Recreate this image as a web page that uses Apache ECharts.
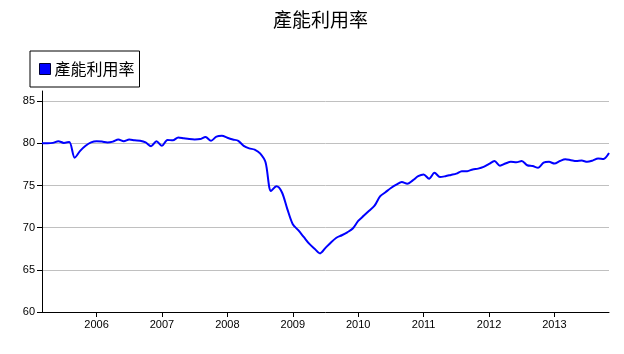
<!DOCTYPE html>
<html>
<head>
<meta charset="utf-8">
<script src="https://cdn.jsdelivr.net/npm/echarts@6/dist/echarts.min.js"></script>
<style>html,body{margin:0;padding:0;background:#fff}#c{width:624px;height:354px}</style>
</head>
<body>
<div id="c"></div>
<script>
var titleText = '產能利用率';
var seriesName = '產能利用率';
var months = [
'2005-03','2005-04','2005-05','2005-06','2005-07','2005-08','2005-09','2005-10','2005-11','2005-12',
'2006-01','2006-02','2006-03','2006-04','2006-05','2006-06','2006-07','2006-08','2006-09','2006-10','2006-11','2006-12',
'2007-01','2007-02','2007-03','2007-04','2007-05','2007-06','2007-07','2007-08','2007-09','2007-10','2007-11','2007-12',
'2008-01','2008-02','2008-03','2008-04','2008-05','2008-06','2008-07','2008-08','2008-09','2008-10','2008-11','2008-12',
'2009-01','2009-02','2009-03','2009-04','2009-05','2009-06','2009-07','2009-08','2009-09','2009-10','2009-11','2009-12',
'2010-01','2010-02','2010-03','2010-04','2010-05','2010-06','2010-07','2010-08','2010-09','2010-10','2010-11','2010-12',
'2011-01','2011-02','2011-03','2011-04','2011-05','2011-06','2011-07','2011-08','2011-09','2011-10','2011-11','2011-12',
'2012-01','2012-02','2012-03','2012-04','2012-05','2012-06','2012-07','2012-08','2012-09','2012-10','2012-11','2012-12',
'2013-01','2013-02','2013-03','2013-04','2013-05','2013-06','2013-07','2013-08','2013-09','2013-10','2013-11'
];
var utilization = [
80.0, 80.0, 80.05, 80.25, 80.05, 80.15, 78.3, 79.1, 79.7, 80.1,
80.25, 80.2, 80.1, 80.2, 80.45, 80.25, 80.45, 80.35, 80.3, 80.1, 79.65, 80.25,
79.7, 80.4, 80.35, 80.7, 80.6, 80.5, 80.45, 80.5, 80.75, 80.3, 80.8, 80.9,
80.65, 80.45, 80.3, 79.7, 79.4, 79.25, 78.8, 77.75, 74.35, 74.9, 74.2, 72.2,
70.4, 69.7, 68.9, 68.1, 67.5, 66.95, 67.6, 68.25, 68.8, 69.1, 69.45, 69.9,
70.8, 71.4, 72.0, 72.6, 73.7, 74.2, 74.7, 75.1, 75.4, 75.2, 75.6, 76.1,
76.3, 75.8, 76.5, 76.0, 76.1, 76.25, 76.4, 76.7, 76.7, 76.9, 77.0, 77.2,
77.55, 77.9, 77.35, 77.6, 77.8, 77.75, 77.9, 77.4, 77.3, 77.1, 77.7, 77.8,
77.6, 77.9, 78.1, 78.0, 77.9, 77.95, 77.8, 77.95, 78.2, 78.15, 78.85
];
var yMin = 60, yMax = 86.2, yStep = 5;

var font = '"Liberation Sans", Arial, sans-serif';
var isJan = function (idx, val) { return /-01$/.test(val); };

var chart = echarts.init(document.getElementById('c'), null, {renderer: 'canvas'});
chart.setOption({
  animation: false,
  backgroundColor: '#ffffff',
  title: {
    text: titleText,
    left: 268, top: 5,
    textStyle: {fontFamily: '"Noto Sans CJK TC", sans-serif', fontSize: 19, fontWeight: 'normal', color: '#000'}
  },
  legend: {
    left: 30, top: 51,
    padding: [10, 5, 10, 9],
    borderColor: '#000', borderWidth: 1,
    backgroundColor: '#fff',
    itemWidth: 11, itemHeight: 11, itemGap: 4,
    icon: 'rect',
    textStyle: {fontFamily: '"Noto Sans CJK TC", sans-serif', fontSize: 16, color: '#000', padding: [0,0,0,-1]},
    data: [{name: seriesName, itemStyle: {color: '#0000ff', borderColor: '#000033', borderWidth: 1}}]
  },
  grid: {left: 42, right: 15, top: 91, bottom: 42, containLabel: false},
  xAxis: {
    type: 'category',
    data: months,
    boundaryGap: false,
    axisLine: {lineStyle: {color: '#000', width: 1}},
    axisTick: {show: true, interval: isJan, length: 5, lineStyle: {color: '#000'}},
    axisLabel: {
      interval: isJan, margin: 7,
      formatter: function (v) { return v.slice(0, 4); },
      fontFamily: font, fontSize: 11, color: '#000'
    },
    splitLine: {show: false}
  },
  yAxis: {
    type: 'value',
    min: yMin, max: yMax, interval: yStep,
    axisLine: {show: true, lineStyle: {color: '#000', width: 1}},
    axisTick: {show: true, length: 5, lineStyle: {color: '#000'}},
    axisLabel: {showMaxLabel: false, margin: 7, fontFamily: font, fontSize: 11, color: '#000'},
    splitLine: {show: true, showMinLine: false, showMaxLine: false, lineStyle: {color: '#c0c0c0', width: 1}}
  },
  series: [{
    name: seriesName,
    type: 'line',
    data: utilization,
    smooth: 0.3,
    showSymbol: false,
    symbol: 'none',
    lineStyle: {color: '#0000ff', width: 2},
    itemStyle: {color: '#0000ff'}
  }]
});
</script>
</body>
</html>
